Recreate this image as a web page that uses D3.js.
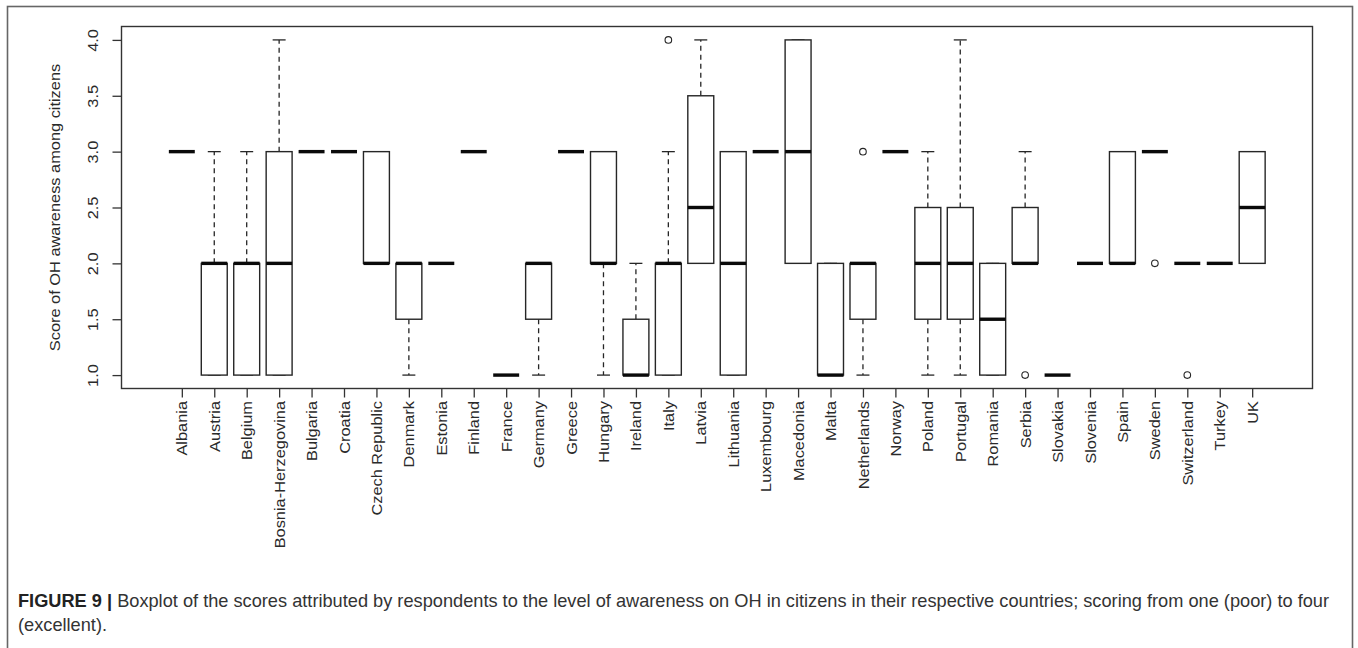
<!DOCTYPE html>
<html>
<head>
<meta charset="utf-8">
<script src="https://cdn.jsdelivr.net/npm/d3@7"></script>
<style>
  html, body { margin: 0; padding: 0; background: #fff; }
  svg { display: block; }
  text { font-family: "Liberation Sans", Arial, sans-serif; }
</style>
</head>
<body>
<svg id="chart" width="1358" height="648"></svg>
<script>
// ---- data ----
const countries = ["Albania","Austria","Belgium","Bosnia-Herzegovina","Bulgaria","Croatia","Czech Republic","Denmark","Estonia","Finland","France","Germany","Greece","Hungary","Ireland","Italy","Latvia","Lithuania","Luxembourg","Macedonia","Malta","Netherlands","Norway","Poland","Portugal","Romania","Serbia","Slovakia","Slovenia","Spain","Sweden","Switzerland","Turkey","UK"];
const whiskerLow  = [3,1,1,1,3,3,2,1,2,3,1,1,3,1,1,1,2,1,3,2,1,1,3,1,1,1,2,1,2,2,3,2,2,2];
const q1          = [3,1,1,1,3,3,2,1.5,2,3,1,1.5,3,2,1,1,2,1,3,2,1,1.5,3,1.5,1.5,1,2,1,2,2,3,2,2,2];
const medians     = [3,2,2,2,3,3,2,2,2,3,1,2,3,2,1,2,2.5,2,3,3,1,2,3,2,2,1.5,2,1,2,2,3,2,2,2.5];
const q3          = [3,2,2,3,3,3,3,2,2,3,1,2,3,3,1.5,2,3.5,3,3,4,2,2,3,2.5,2.5,2,2.5,1,2,3,3,2,2,3];
const whiskerHigh = [3,3,3,4,3,3,3,2,2,3,1,2,3,3,2,3,4,3,3,4,2,2,3,3,4,2,3,1,2,3,3,2,2,3];
const outliers    = [[],[],[],[],[],[],[],[],[],[],[],[],[],[],[],[4],[],[],[],[],[],[3],[],[],[],[],[1],[],[],[],[2],[1],[],[]];
const yTicks = [1.0,1.5,2.0,2.5,3.0,3.5,4.0];
const yTitle = "Score of OH awareness among citizens";
const captionBold = "FIGURE 9 | ";
const captionLine1 = "Boxplot of the scores attributed by respondents to the level of awareness on OH in citizens in their respective countries; scoring from one (poor) to four";
const captionLine2 = "(excellent).";

// ---- layout ----
const svg = d3.select("#chart");
const plot = {left: 121.5, right: 1312.5, top: 26.5, bottom: 388.5};
const stretch = 1.17;   // reference glyphs are elongated along their reading direction
const fs = 14;
const lineCol = "#262626";
const textCol = "#2a2a2a";

// outer figure frame
svg.append("rect").attr("x", 7.5).attr("y", 6.5).attr("width", 1345).attr("height", 700)
  .attr("fill", "none").attr("stroke", "#666").attr("stroke-width", 1.6);

const x = d3.scalePoint().domain(countries).range([plot.left, plot.right]).padding(1.86);
const y = d3.scaleLinear().domain([0.88, 4.12]).range([plot.bottom, plot.top]);
const boxW = x.step() * 0.8;

const data = countries.map((c, i) => ({
  c, lo: whiskerLow[i], q1: q1[i], med: medians[i], q3: q3[i], hi: whiskerHigh[i], out: outliers[i]
}));

const g = svg.append("g");

// whiskers (dashed)
g.selectAll("line.wh-up").data(data).join("line")
  .attr("x1", d => x(d.c)).attr("x2", d => x(d.c))
  .attr("y1", d => y(d.q3)).attr("y2", d => y(d.hi))
  .attr("stroke", lineCol).attr("stroke-width", 1.3).attr("stroke-dasharray", "5,4");
g.selectAll("line.wh-lo").data(data).join("line")
  .attr("x1", d => x(d.c)).attr("x2", d => x(d.c))
  .attr("y1", d => y(d.q1)).attr("y2", d => y(d.lo))
  .attr("stroke", lineCol).attr("stroke-width", 1.3).attr("stroke-dasharray", "5,4");
// staples
data.forEach(d => {
  [d.lo, d.hi].forEach(v => {
    g.append("line")
      .attr("x1", x(d.c) - boxW / 4).attr("x2", x(d.c) + boxW / 4)
      .attr("y1", y(v)).attr("y2", y(v))
      .attr("stroke", lineCol).attr("stroke-width", 1.3);
  });
});
// boxes
g.selectAll("rect.box").data(data).join("rect")
  .attr("x", d => x(d.c) - boxW / 2).attr("width", boxW)
  .attr("y", d => y(d.q3)).attr("height", d => y(d.q1) - y(d.q3))
  .attr("fill", "#fff").attr("stroke", lineCol).attr("stroke-width", 1.4);
// medians
g.selectAll("line.med").data(data).join("line")
  .attr("x1", d => x(d.c) - boxW / 2).attr("x2", d => x(d.c) + boxW / 2)
  .attr("y1", d => y(d.med)).attr("y2", d => y(d.med))
  .attr("stroke", "#0a0a0a").attr("stroke-width", 3.4);
// outliers
data.forEach(d => d.out.forEach(v => {
  g.append("circle").attr("cx", x(d.c)).attr("cy", y(v)).attr("r", 3.3)
    .attr("fill", "none").attr("stroke", lineCol).attr("stroke-width", 1.1);
}));

// plot frame
svg.append("rect").attr("x", plot.left).attr("y", plot.top)
  .attr("width", plot.right - plot.left).attr("height", plot.bottom - plot.top)
  .attr("fill", "none").attr("stroke", "#333").attr("stroke-width", 1.4);

// y axis
const yAxis = svg.append("g").attr("transform", `translate(${plot.left},0)`)
  .call(d3.axisLeft(y).tickValues(yTicks).tickSize(9).tickFormat(d3.format(".1f")));
yAxis.select(".domain").remove();
yAxis.selectAll(".tick line").attr("stroke", "#333").attr("stroke-width", 1.3);
yAxis.selectAll(".tick text")
  .attr("x", null)
  .attr("text-anchor", "middle")
  .attr("transform", `translate(${93 - plot.left},0) rotate(-90) scale(${stretch},1)`)
  .attr("dy", "0.35em")
  .attr("font-size", fs).attr("fill", textCol)
  .style("font-family", '"Liberation Sans", Arial, sans-serif');

// x axis
const xAxis = svg.append("g").attr("transform", `translate(0,${plot.bottom})`)
  .call(d3.axisBottom(x).tickSize(9));
xAxis.select(".domain").remove();
xAxis.selectAll(".tick line").attr("stroke", "#333").attr("stroke-width", 1.3);
xAxis.selectAll(".tick text")
  .attr("y", null)
  .attr("text-anchor", "end")
  .attr("transform", `translate(0,${12.5}) rotate(-90) scale(${stretch},1)`)
  .attr("dy", "0.36em")
  .attr("font-size", fs).attr("fill", textCol)
  .style("font-family", '"Liberation Sans", Arial, sans-serif');

// y title
svg.append("text")
  .attr("transform", `translate(55,${(plot.top + plot.bottom) / 2}) rotate(-90) scale(${stretch},1)`)
  .attr("text-anchor", "middle").attr("dy", "0.35em")
  .attr("font-size", fs).attr("fill", textCol)
  .text(yTitle);

// caption
const capX = 18, capRight = 1330;
const cap1 = svg.append("g");
const t1 = cap1.append("text").attr("font-size", 18).attr("fill", "#333");
t1.append("tspan").attr("font-weight", "bold").attr("fill", "#222").text(captionBold);
t1.append("tspan").text(captionLine1);
const w1 = t1.node().getComputedTextLength();
const sx = (capRight - capX) / w1;
cap1.attr("transform", `translate(${capX},607) scale(${sx},1)`);
svg.append("text").attr("font-size", 18).attr("fill", "#333")
  .attr("transform", `translate(${capX},631) scale(${sx},1)`)
  .text(captionLine2);
</script>
</body>
</html>
